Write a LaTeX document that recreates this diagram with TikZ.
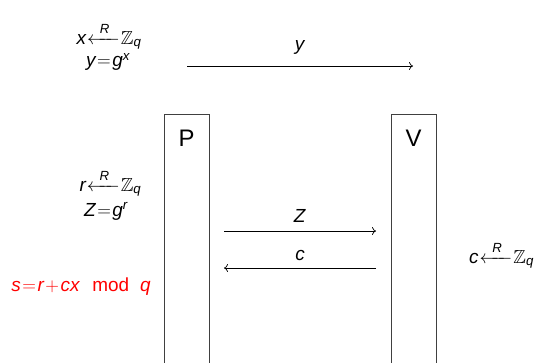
\documentclass[tikz,border=0pt]{standalone}
\usepackage{fix-cm}
\usepackage{amsmath,amssymb}
\usepackage{fontspec}
\setmainfont{Liberation Sans}
\usetikzlibrary{arrows.meta}
\newcommand\mi[1]{\textit{#1}}
\newcommand\eqn{\mskip1.5mu{=}\mskip1.5mu}
\newcommand\pls{\mskip1.5mu{+}\mskip1.5mu}
\newcommand\rndsel[1]{$\mi{#1}\mskip1mu{\xleftarrow{\hspace{6.5pt}\mi{R}\hspace{6.5pt}}}\mskip1mu\mathbb{Z}_{\mi{q}}$}
\begin{document}
\begin{tikzpicture}[x=1bp,y=-1bp,
  txt/.style={font=\fontsize{19}{22}\selectfont, inner sep=0pt},
  big/.style={font=\fontsize{24}{28}\selectfont, inner sep=0pt},
  party/.style={draw=black!75, line width=0.9pt, minimum width=45bp, minimum height=270bp, anchor=north, inner sep=0pt},
  msg/.style={-{To[length=4pt,width=8pt]}, line width=0.7pt}]
\useasboundingbox (0,0) rectangle (539,362);
% parties
\node[party] (P) at (186.5,114) {};
\node[party] (V) at (413.5,114) {};
\node[big] (Pl) at (186.5,138) {P};
\node[big] (Vl) at (413.5,138) {V};
% setup
\node[txt] (s1) at (109,36) {\rndsel{x}};
\node[txt] (s2) at (108,62) {$\mi{y}\eqn\mi{g}^{\mi{x}}$};
\coordinate (t1) at (187,66);
\coordinate (t2) at (413,66);
\draw[msg] (t1) -- (t2);
\node[txt] (ty) at (300,47) {\mi{y}};
% prover commit
\node[txt] (r1) at (110.5,183) {\rndsel{r}};
\node[txt] (r2) at (106,211) {$\mi{Z}\eqn\mi{g}^{\mi{r}}$};
\coordinate (z1) at (224,231);
\coordinate (z2) at (376,231);
\draw[msg] (z1) -- (z2);
\node[txt] (zl) at (300,216) {\mi{Z}};
% challenge
\node[txt] (c1) at (501.5,255) {\rndsel{c}};
\coordinate (c2) at (376,268);
\coordinate (c3) at (224,268);
\draw[msg] (c2) -- (c3);
\node[txt] (cl) at (300,255) {\mi{c}};
% response
\node[txt, text=red] (resp) at (81,287) {$\mi{s}\eqn\mi{r}\pls\mi{cx}$\hspace{0.4em} mod\hspace{0.3em} $\mi{q}$};
\end{tikzpicture}
\end{document}
